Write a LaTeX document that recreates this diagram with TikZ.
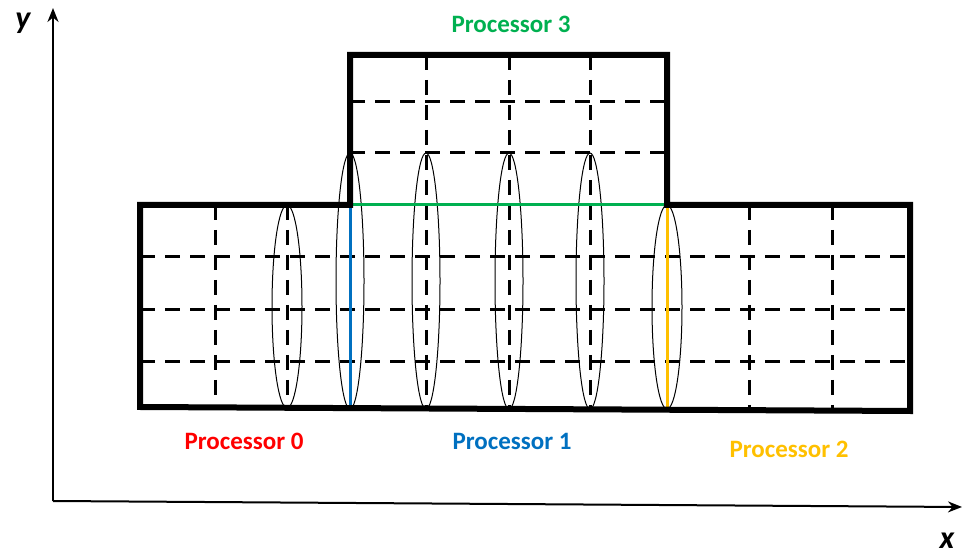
\documentclass[tikz,border=0pt]{standalone}
\usepackage{fontspec}
\setmainfont{Carlito}
\usetikzlibrary{arrows.meta}
\definecolor{rojoP}{HTML}{FF0000}
\definecolor{azulP}{HTML}{0070C0}
\definecolor{doradoP}{HTML}{FFC000}
\definecolor{verdeP}{HTML}{00B050}

\begin{document}
\begin{tikzpicture}[x=0.5pt,y=-0.5pt,>={Stealth[length=7pt,width=5.5pt]},
    rejilla/.style={line width=1.5pt,dash pattern=on 7.5pt off 5pt},
    borde/.style={line width=3pt,line join=miter},
    anillo/.style={line width=0.5pt},
    etiqueta/.style={font=\fontsize{12.5}{14}\selectfont\bfseries,inner sep=0pt},
    eje/.style={font=\fontsize{16}{18}\selectfont\bfseries\itshape,inner sep=0pt}]
  \useasboundingbox (0,0) rectangle (964,555);
  % axes
  \draw[->,line width=1pt] (53,501) -- (53,8);
  \draw[->,line width=1pt] (53,501) -- (962,507);
  \node[eje] (ylab) at (23,23) {y};
  \node[eje] (xlab) at (947,541) {x};
  % dashed grid
  \foreach \y in {257,310,362}
    \draw[rejilla] (140,\y) -- (910,\y);
  \foreach \y in {102,153}
    \draw[rejilla] (350,\y) -- (667,\y);
  \foreach \x in {215,287,749,832}
    \draw[rejilla] (\x,205) -- (\x,409);
  \foreach \x in {426,509,590}
    \draw[rejilla] (\x,55) -- (\x,409);
  % rings
  \draw[anillo] (287,306.5) ellipse (15 and 101.5);
  \foreach \x in {350,426,509,590}
    \draw[anillo] (\x,281) ellipse (14 and 128);
  \draw[anillo] (667,307) ellipse (15 and 102);
  % shared boundaries
  \draw[azulP,line width=1.5pt] (350,205) -- (350,408);
  \draw[doradoP,line width=1.5pt] (667,205) -- (667,410);
  \draw[verdeP,line width=1.5pt] (350,205) -- (667,205);
  % outline
  \draw[borde] (350,205) -- (140,205) -- (140,407) -- (910,411)
    -- (910,205) -- (667,205) -- (667,55) -- (350,55) -- cycle;
  % labels
  \node[etiqueta,text=rojoP] (p0) at (244,441) {Processor 0};
  \node[etiqueta,text=azulP] (p1) at (512,441) {Processor 1};
  \node[etiqueta,text=doradoP] (p2) at (789,449) {Processor 2};
  \node[etiqueta,text=verdeP] (p3) at (511,24) {Processor 3};
\end{tikzpicture}
\end{document}
